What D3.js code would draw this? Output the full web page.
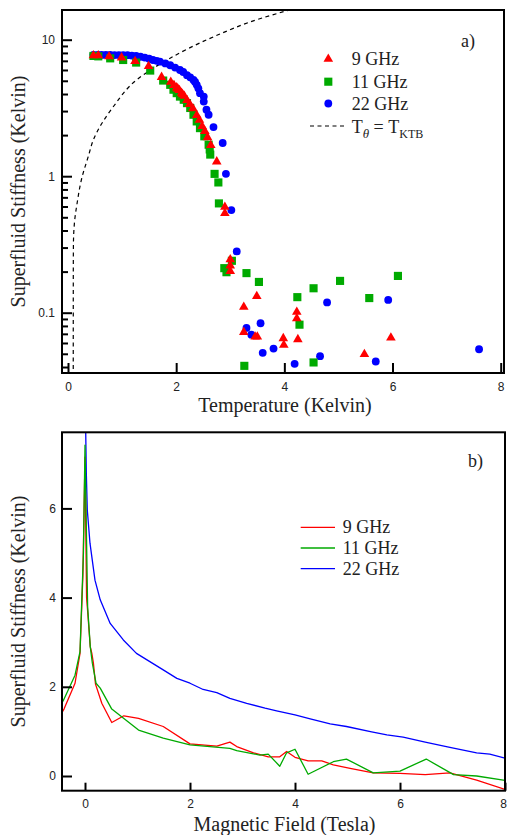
<!DOCTYPE html>
<html><head><meta charset="utf-8">
<script src="https://d3js.org/d3.v7.min.js"></script>
<style>body{margin:0;background:#fff}svg{display:block}</style>
</head><body>
<script>
// ---- Data ----
const seriesNames = ["9 GHz", "11 GHz", "22 GHz"];
const xTicksA = [0, 2, 4, 6, 8];
const yTicksA = [0.1, 1, 10];
const xTicksB = [0, 2, 4, 6, 8];
const yTicksB = [0, 2, 4, 6];

// panel a: [Temperature, Stiffness]
const scatter9 = [[0.47,7.73],[0.56,7.73],[0.76,7.6],[0.99,7.45],[1.24,7.0],[1.49,6.44],[1.73,5.36],[1.90,4.94],[1.96,4.67],[2.01,4.49],[2.03,4.4],[2.06,4.3],[2.10,4.1],[2.12,4.0],[2.15,3.9],[2.20,3.63],[2.25,3.4],[2.31,3.16],[2.38,2.82],[2.43,2.6],[2.48,2.34],[2.53,2.15],[2.58,1.94],[2.64,1.7],[2.75,1.29],[2.90,0.60],[2.90,0.54],[3.0,0.247],[3.0,0.223],[3.0,0.203],[3.25,0.111],[3.25,0.0727],[3.49,0.133],[3.46,0.0672],[3.50,0.0672],[3.98,0.0654],[3.99,0.0584],[4.23,0.102],[4.23,0.0915],[4.25,0.0643],[5.48,0.05],[5.97,0.066]];
const scatter11 = [[0.47,7.6],[0.56,7.55],[0.78,7.3],[1.02,7.1],[1.26,6.8],[1.52,5.94],[1.76,5.02],[1.89,4.67],[1.95,4.3],[2.01,4.06],[2.07,3.83],[2.14,3.63],[2.20,3.43],[2.26,3.16],[2.32,2.82],[2.38,2.52],[2.44,2.25],[2.52,1.96],[2.60,1.70],[2.62,1.57],[2.63,1.44],[2.71,1.04],[2.78,0.90],[2.79,0.632],[2.89,0.212],[2.93,0.198],[3.03,0.24],[3.30,0.195],[3.53,0.168],[3.26,0.0408],[4.24,0.130],[4.28,0.0817],[4.54,0.151],[4.54,0.0432],[5.03,0.171],[5.57,0.128],[6.10,0.186]];
const scatter22 = [[0.47,7.75],[0.55,7.75],[0.62,7.74],[0.70,7.74],[0.78,7.73],[0.86,7.72],[0.94,7.72],[1.02,7.72],[1.10,7.7],[1.18,7.65],[1.26,7.6],[1.34,7.5],[1.42,7.4],[1.50,7.25],[1.57,7.1],[1.64,7.0],[1.70,6.9],[1.80,6.7],[1.89,6.5],[1.98,6.25],[2.07,6.0],[2.13,5.8],[2.20,5.5],[2.26,5.3],[2.32,5.07],[2.35,4.9],[2.38,4.67],[2.41,4.4],[2.44,4.06],[2.51,3.83],[2.51,3.52],[2.56,3.07],[2.60,2.82],[2.69,2.29],[2.86,1.75],[2.92,1.04],[3.02,0.565],[3.12,0.281],[3.30,0.0773],[3.39,0.069],[3.56,0.0837],[3.60,0.0508],[3.80,0.0546],[4.19,0.0422],[4.66,0.048],[4.79,0.119],[5.92,0.124],[5.69,0.0439],[7.60,0.054]];
const ktbCurve = [[0.097,0.03],[0.098,0.2],[0.10,0.31],[0.12,0.46],[0.17,0.64],[0.25,0.95],[0.376,1.40],[0.47,1.85],[0.84,3.24],[1.27,5.08],[1.83,7.1],[2.69,10.5],[3.56,14.3],[4.1,16.5],[4.3,17.3]];

// panel b: [Field, Stiffness]
const line9 = [[-0.46,1.38],[-0.40,1.50],[-0.19,2.08],[-0.095,2.75],[-0.04,4.5],[0.0,7.15],[0.03,4.0],[0.05,3.7],[0.10,2.9],[0.13,2.75],[0.16,2.53],[0.2,2.06],[0.32,1.63],[0.51,1.20],[0.74,1.35],[1.02,1.29],[1.49,1.11],[2.0,0.72],[2.51,0.67],[2.76,0.76],[2.89,0.66],[3.21,0.52],[3.49,0.43],[3.71,0.43],[3.84,0.55],[4.0,0.42],[4.25,0.34],[4.51,0.34],[4.73,0.25],[5.05,0.17],[5.49,0.07],[6.0,0.06],[6.48,0.03],[6.95,0.07],[7.46,-0.09],[8.0,-0.30]];
const line11 = [[-0.46,1.6],[-0.41,1.70],[-0.19,2.26],[-0.095,2.79],[-0.03,5.0],[0.0,7.42],[0.05,3.8],[0.10,2.9],[0.14,2.53],[0.21,2.08],[0.29,1.97],[0.51,1.50],[1.02,1.03],[1.49,0.85],[2.0,0.70],[2.76,0.62],[2.89,0.57],[3.33,0.47],[3.49,0.49],[3.71,0.22],[3.84,0.52],[4.0,0.60],[4.25,0.04],[4.73,0.32],[4.98,0.38],[5.49,0.07],[6.0,0.11],[6.5,0.38],[7.02,0.03],[7.46,0.0],[8.0,-0.1]];
const line22 = [[0.0,8.2],[0.01,8.0],[0.025,6.8],[0.044,5.96],[0.095,5.22],[0.19,4.39],[0.29,3.95],[0.48,3.42],[0.73,3.05],[0.98,2.75],[1.49,2.38],[1.75,2.19],[2.0,2.08],[2.25,1.94],[2.51,1.87],[2.76,1.74],[3.08,1.63],[3.43,1.52],[3.65,1.46],[4.0,1.37],[4.29,1.28],[4.67,1.17],[4.98,1.11],[5.46,0.99],[5.75,0.92],[6.06,0.87],[6.48,0.76],[6.95,0.64],[7.46,0.52],[7.71,0.49],[8.0,0.40]];

const colors = ["#ff0000", "#00aa00", "#0000ff"];

// ---- Drawing ----
const W = 507, H = 835;
const svg = d3.select("body").append("svg").attr("width", W).attr("height", H);
const serif = "'Liberation Serif','Times New Roman',serif";
const sans = "'Liberation Sans',Arial,sans-serif";

// ===== Panel a =====
const fa = {l: 62, r: 504, t: 10, b: 373};
const xa = d3.scaleLinear().domain([0, 8]).range([68, 500.7]);
const ya = d3.scaleLog().domain([0.1, 10]).range([312.7, 39.7]);

const defs = svg.append("defs");
defs.append("clipPath").attr("id", "clipA").append("rect")
  .attr("x", fa.l).attr("y", fa.t).attr("width", fa.r - fa.l).attr("height", fa.b - fa.t);

const ga = svg.append("g");
ga.append("path").datum(ktbCurve)
  .attr("clip-path", "url(#clipA)")
  .attr("fill", "none").attr("stroke", "#000").attr("stroke-width", 1.2)
  .attr("stroke-dasharray", "4,3.5")
  .attr("d", d3.line().x(d => xa(d[0])).y(d => ya(d[1])).curve(d3.curveMonotoneY));

const symCircle = d3.symbol().type(d3.symbolCircle).size(48);
const symSquare = d3.symbol().type(d3.symbolSquare).size(66);
const symTri = d3.symbol().type(d3.symbolTriangle).size(40);

const gpts = ga.append("g").attr("clip-path", "url(#clipA)");
gpts.selectAll(".c").data(scatter22).join("path")
  .attr("d", symCircle).attr("fill", colors[2])
  .attr("transform", d => `translate(${xa(d[0])},${ya(d[1])})`);
gpts.selectAll(".s").data(scatter11).join("path")
  .attr("d", symSquare).attr("fill", colors[1])
  .attr("transform", d => `translate(${xa(d[0])},${ya(d[1])})`);
gpts.selectAll(".t").data(scatter9).join("path")
  .attr("d", symTri).attr("fill", colors[0])
  .attr("transform", d => `translate(${xa(d[0])},${ya(d[1]) + 0.5})`);

function styleAxis(g) {
  g.select(".domain").remove();
  g.selectAll(".tick line").attr("stroke", "#000").attr("stroke-width", 2);
  g.selectAll(".tick text").attr("font-family", sans).attr("font-size", 12).attr("fill", "#222");
}
ga.append("g").attr("transform", `translate(0,${fa.b})`)
  .call(d3.axisBottom(xa).tickValues(xTicksA).tickFormat(d3.format("d")).tickSize(-10).tickPadding(9))
  .call(styleAxis);
ga.append("g").attr("transform", `translate(${fa.l},0)`)
  .call(d3.axisLeft(ya).tickValues(yTicksA).tickFormat(d => String(d)).tickSize(-10).tickPadding(7))
  .call(styleAxis);
const minorA = [];
[0.01, 0.1, 1, 10].forEach(dec => { for (let k = 2; k <= 9; k++) { const v = dec * k; if (ya(v) < fa.b && ya(v) > fa.t) minorA.push(v); } });
ga.append("g").attr("transform", `translate(${fa.l},0)`)
  .call(d3.axisLeft(ya).tickValues(minorA).tickFormat("").tickSize(-6))
  .call(styleAxis);
ga.append("rect").attr("x", fa.l).attr("y", fa.t).attr("width", fa.r - fa.l).attr("height", fa.b - fa.t)
  .attr("fill", "none").attr("stroke", "#000").attr("stroke-width", 2);

ga.append("text").attr("x", (fa.l + fa.r) / 2 + 2).attr("y", 411.5).attr("text-anchor", "middle")
  .attr("font-family", serif).attr("font-size", 20).attr("fill", "#222").text("Temperature (Kelvin)");
ga.append("text").attr("transform", `translate(25,${(fa.t + fa.b) / 2}) rotate(-90)`).attr("text-anchor", "middle")
  .attr("font-family", serif).attr("font-size", 20).attr("fill", "#222").text("Superfluid Stiffness (Kelvin)");
ga.append("text").attr("x", 461).attr("y", 47).attr("font-family", serif).attr("font-size", 18).attr("fill", "#222").text("a)");

const legA = ga.append("g");
const legRows = [58.5, 81.7, 103.5];
const legSyms = [symTri, symSquare, symCircle];
[0, 1, 2].forEach(i => {
  legA.append("path").attr("d", legSyms[i]).attr("fill", colors[i])
    .attr("transform", `translate(328.3,${legRows[i] + (i === 0 ? 0.5 : 0)})`);
  legA.append("text").attr("x", 351.7).attr("y", legRows[i] + 6.5)
    .attr("font-family", serif).attr("font-size", 18).attr("fill", "#222").text(seriesNames[i]);
});
legA.append("line").attr("x1", 310).attr("x2", 345).attr("y1", 126).attr("y2", 126)
  .attr("stroke", "#000").attr("stroke-width", 1.2).attr("stroke-dasharray", "4,3.5");
const ktbText = legA.append("text").attr("x", 351.7).attr("y", 132.5)
  .attr("font-family", serif).attr("font-size", 18).attr("fill", "#222");
ktbText.append("tspan").text("T");
ktbText.append("tspan").attr("dy", 5).attr("font-size", 13).attr("font-style", "italic").text("θ");
ktbText.append("tspan").attr("dy", -5).text(" = T");
ktbText.append("tspan").attr("dy", 5).attr("font-size", 12).text("KTB");

// ===== Panel b =====
const fb = {l: 62, r: 505, t: 432.3, b: 790.7};
const xb = d3.scaleLinear().domain([0, 8]).range([85, 505]);
const yb = d3.scaleLinear().domain([0, 6]).range([776, 508.4]);
defs.append("clipPath").attr("id", "clipB").append("rect")
  .attr("x", fb.l).attr("y", fb.t).attr("width", fb.r - fb.l).attr("height", fb.b - fb.t);

const gb = svg.append("g");
const lineB = d3.line().x(d => xb(d[0])).y(d => yb(d[1]));
const gl = gb.append("g").attr("clip-path", "url(#clipB)");
[[line22, 2], [line9, 0], [line11, 1]].forEach(([data, i]) => {
  gl.append("path").datum(data).attr("fill", "none").attr("stroke", colors[i])
    .attr("stroke-width", 1.3).attr("stroke-linejoin", "round").attr("d", lineB);
});

const axB = gb.append("g").attr("transform", `translate(0,${fb.b})`)
  .call(d3.axisBottom(xb).tickValues(xTicksB).tickFormat(d3.format("d")).tickSize(-8).tickPadding(9))
  .call(styleAxis);
// keep the last label (at the right edge) inside the page
axB.selectAll(".tick text").filter(d => d === 8).attr("x", -2);
gb.append("g").attr("transform", `translate(${fb.l},0)`)
  .call(d3.axisLeft(yb).tickValues(yTicksB).tickFormat(d3.format("d")).tickSize(-10).tickPadding(6))
  .call(styleAxis);
gb.append("rect").attr("x", fb.l).attr("y", fb.t).attr("width", fb.r - fb.l).attr("height", fb.b - fb.t)
  .attr("fill", "none").attr("stroke", "#000").attr("stroke-width", 2);

gb.append("text").attr("x", (fb.l + fb.r) / 2 + 1).attr("y", 831).attr("text-anchor", "middle")
  .attr("font-family", serif).attr("font-size", 20).attr("fill", "#222").text("Magnetic Field (Tesla)");
gb.append("text").attr("transform", `translate(25,${(fb.t + fb.b) / 2}) rotate(-90)`).attr("text-anchor", "middle")
  .attr("font-family", serif).attr("font-size", 20).attr("fill", "#222").text("Superfluid Stiffness (Kelvin)");
gb.append("text").attr("x", 468).attr("y", 467).attr("font-family", serif).attr("font-size", 18).attr("fill", "#222").text("b)");

const legBRows = [527.3, 548, 568.7];
[0, 1, 2].forEach(i => {
  gb.append("line").attr("x1", 300.7).attr("x2", 335).attr("y1", legBRows[i]).attr("y2", legBRows[i])
    .attr("stroke", colors[i]).attr("stroke-width", 1.3);
  gb.append("text").attr("x", 342.7).attr("y", legBRows[i] + 5.8)
    .attr("font-family", serif).attr("font-size", 18).attr("fill", "#222").text(seriesNames[i]);
});
</script>
</body></html>
